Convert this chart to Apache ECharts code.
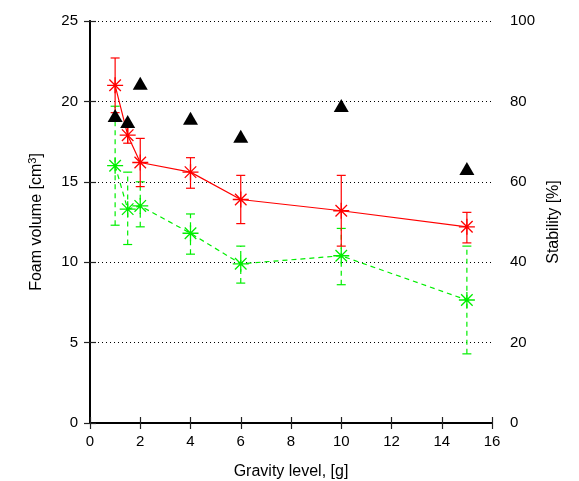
<!DOCTYPE html>
<html>
<head>
<meta charset="utf-8">
<script src="https://cdn.jsdelivr.net/npm/echarts@6/dist/echarts.min.js"></script>
<style>html,body{margin:0;padding:0;background:#fff;}#c{width:579px;height:481px;}</style>
</head>
<body>
<div id="c"></div>
<script>
const gravity = [1, 1.5, 2, 4, 6, 10, 15];
const redVolume = [21.0, 17.9, 16.2, 15.6, 13.9, 13.2, 12.2];
const redErrLow = [19.3, 17.4, 14.7, 14.6, 12.4, 11.0, 11.2];
const redErrHigh = [22.7, 18.4, 17.7, 16.5, 15.4, 15.4, 13.1];
const greenVolume = [16.0, 13.3, 13.5, 11.8, 9.9, 10.4, 7.65];
const greenErrLow = [12.3, 11.1, 12.2, 10.5, 8.7, 8.6, 4.3];
const greenErrHigh = [19.7, 15.6, 15.0, 13.0, 11.0, 12.1, 11.0];
const stability = [76.5, 75.0, 84.5, 75.8, 71.3, 79.0, 63.3];
const xTicks = [0, 16, 2];
const yLeftTicks = [0, 25, 5];
const yRightTicks = [0, 100, 20];

const font = 'Liberation Sans, Arial, sans-serif';
const starPath = 'path://M0,-1L0,1M-1,0L1,0M-0.72,-0.72L0.72,0.72M-0.72,0.72L0.72,-0.72';
const RED = '#ff0000';
const GREEN = '#00ee00';

function pairs(xs, ys) { return xs.map((x, i) => [x, ys[i]]); }
function triples(xs, lo, hi) { return xs.map((x, i) => [x, lo[i], hi[i]]); }

function errRender(color, dash) {
  return function (params, api) {
    const x = api.value(0);
    const pLo = api.coord([x, api.value(1)]);
    const pHi = api.coord([x, api.value(2)]);
    const cap = 4.5;
    const style = { stroke: color, lineWidth: 1.2, lineDash: dash, fill: null };
    return {
      type: 'group',
      children: [
        { type: 'line', shape: { x1: pLo[0], y1: pLo[1], x2: pHi[0], y2: pHi[1] }, style: style },
        { type: 'line', shape: { x1: pHi[0] - cap, y1: pHi[1], x2: pHi[0] + cap, y2: pHi[1] }, style: { stroke: color, lineWidth: 1.2 } },
        { type: 'line', shape: { x1: pLo[0] - cap, y1: pLo[1], x2: pLo[0] + cap, y2: pLo[1] }, style: { stroke: color, lineWidth: 1.2 } }
      ]
    };
  };
}

const axisLineStyle = { color: '#000', width: 1.8 };
const tickStyle = { show: true, inside: true, length: 6, lineStyle: { color: '#222', width: 1.2 } };
const labelStyle = { color: '#000', fontSize: 15, fontFamily: font };

const chart = echarts.init(document.getElementById('c'), null, { renderer: 'canvas' });
chart.setOption({
  animation: false,
  backgroundColor: '#fff',
  grid: { left: 90, right: 87, top: 21, bottom: 58, containLabel: false, outerBoundsMode: 'none' },
  xAxis: [
    {
      type: 'value', min: xTicks[0], max: xTicks[1], interval: xTicks[2], position: 'bottom',
      name: 'Gravity level, [g]', nameLocation: 'middle', nameGap: 41,
      nameTextStyle: { color: '#000', fontSize: 16, fontFamily: font },
      axisLine: { show: true, lineStyle: axisLineStyle },
      axisTick: tickStyle,
      axisLabel: Object.assign({ margin: 11 }, labelStyle),
      splitLine: { show: false }
    },
    {
      type: 'value', min: xTicks[0], max: xTicks[1], interval: xTicks[2], position: 'top',
      axisLine: { show: true, lineStyle: axisLineStyle },
      axisTick: tickStyle,
      axisLabel: { show: false },
      splitLine: { show: false }
    }
  ],
  yAxis: [
    {
      type: 'value', min: yLeftTicks[0], max: yLeftTicks[1], interval: yLeftTicks[2], position: 'left',
      name: 'Foam volume [cm{sup|3}]', nameLocation: 'middle', nameGap: 44,
      nameTextStyle: {
        color: '#000', fontSize: 16, fontFamily: font,
        rich: { sup: { fontSize: 11, verticalAlign: 'top', padding: [0, 0, 8, 0], color: '#000', fontFamily: font } }
      },
      axisLine: { show: true, lineStyle: axisLineStyle },
      axisTick: tickStyle,
      axisLabel: Object.assign({ margin: 12 }, labelStyle),
      splitLine: { show: true, lineStyle: { color: '#000', type: [1, 3], width: 1 } }
    },
    {
      type: 'value', min: yRightTicks[0], max: yRightTicks[1], interval: yRightTicks[2], position: 'right',
      name: 'Stability [%]', nameLocation: 'middle', nameGap: 40,
      nameTextStyle: { color: '#000', fontSize: 16, fontFamily: font },
      axisLine: { show: true, lineStyle: axisLineStyle },
      axisTick: tickStyle,
      axisLabel: Object.assign({ margin: 18 }, labelStyle),
      splitLine: { show: false }
    }
  ],
  series: [
    {
      type: 'custom', xAxisIndex: 0, yAxisIndex: 0,
      renderItem: errRender(GREEN, [5, 4]),
      data: triples(gravity, greenErrLow, greenErrHigh), z: 2
    },
    {
      type: 'custom', xAxisIndex: 0, yAxisIndex: 0,
      renderItem: errRender(RED, null),
      data: triples(gravity, redErrLow, redErrHigh), z: 3
    },
    {
      type: 'line', xAxisIndex: 0, yAxisIndex: 0,
      data: pairs(gravity, greenVolume),
      symbol: starPath, symbolSize: 16, showAllSymbol: true,
      lineStyle: { color: GREEN, width: 1.2, type: [5, 4] },
      itemStyle: { color: GREEN, borderColor: GREEN, borderWidth: 1.3 },
      z: 4
    },
    {
      type: 'line', xAxisIndex: 0, yAxisIndex: 0,
      data: pairs(gravity, redVolume),
      symbol: starPath, symbolSize: 16, showAllSymbol: true,
      lineStyle: { color: RED, width: 1.2 },
      itemStyle: { color: RED, borderColor: RED, borderWidth: 1.3 },
      z: 5
    },
    {
      type: 'scatter', xAxisIndex: 0, yAxisIndex: 1,
      data: pairs(gravity, stability),
      symbol: 'triangle', symbolSize: [15, 13],
      itemStyle: { color: '#000', opacity: 1 },
      z: 6
    }
  ]
});
</script>
</body>
</html>
